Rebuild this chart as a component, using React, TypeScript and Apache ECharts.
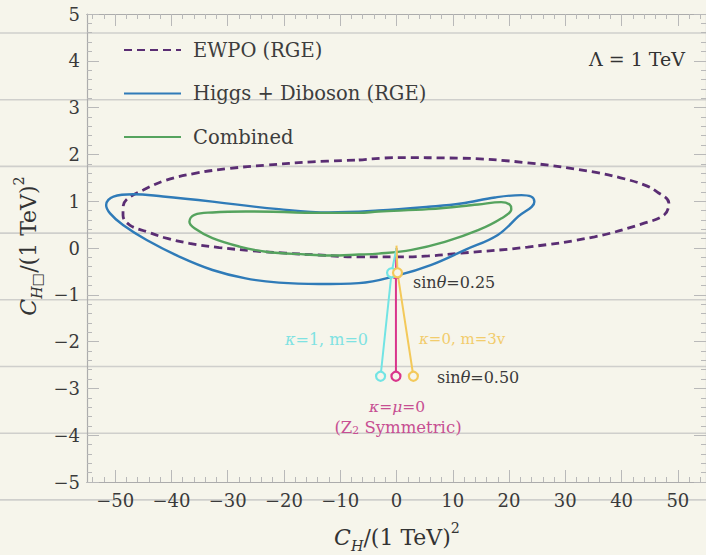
import React, { useEffect, useRef } from "react";
import * as echarts from "echarts";

// ---------- data ----------
const X_MAJOR = [-50, -40, -30, -20, -10, 0, 10, 20, 30, 40, 50];
const Y_TICKS = [-5, -4, -3, -2, -1, 0, 1, 2, 3, 4, 5];

const ewpo: number[][] = [
  [-6.7, 1.88], [0, 1.93], [11, 1.92], [23.3, 1.82], [35.2, 1.62], [39.8, 1.5],
  [44.0, 1.35], [46.3, 1.2], [48.4, 0.96], [47.6, 0.71], [44.0, 0.53],
  [35.2, 0.24], [23.3, 0.02], [11.5, -0.11], [5.7, -0.17], [0, -0.19],
  [-6.7, -0.19], [-13.8, -0.15], [-19.7, -0.11], [-25.6, -0.06], [-31.5, 0.01],
  [-36.8, 0.1], [-40.9, 0.21], [-44.4, 0.35], [-47.4, 0.49], [-48.6, 0.7],
  [-48.6, 0.85], [-48.0, 1.03], [-45.0, 1.24], [-40.9, 1.45], [-35.6, 1.6],
  [-29.7, 1.7], [-23.2, 1.77], [-15.0, 1.84], [-6.7, 1.88],
];

const higgs: number[][] = [
  [-32.7, 0.99], [-41.5, 1.1], [-46.8, 1.15], [-50.3, 1.1], [-51.6, 0.92],
  [-50.9, 0.74], [-48.6, 0.49], [-44.4, 0.17], [-38.5, -0.19], [-32.7, -0.47],
  [-26.8, -0.65], [-20.9, -0.74], [-13.8, -0.77], [-6.7, -0.75], [0.35, -0.58],
  [6.2, -0.36], [12.2, -0.04], [18.0, 0.28], [21.6, 0.67], [24.5, 0.99],
  [23.9, 1.1], [22.2, 1.13], [17.5, 1.08], [11.5, 0.95], [5.7, 0.88],
  [-3.2, 0.8], [-12, 0.76], [-20.9, 0.83], [-32.7, 0.99],
];

const combined: number[][] = [
  [-17.9, 0.76], [-26.8, 0.78], [-32.7, 0.76], [-35.9, 0.71], [-36.8, 0.56],
  [-35.9, 0.42], [-32.7, 0.21], [-27.9, 0.03], [-23.2, -0.08], [-16.1, -0.14],
  [-12, -0.16], [-6.7, -0.14], [-3.2, -0.12], [2.7, -0.04], [8.6, 0.13],
  [14.5, 0.38], [18.6, 0.63], [20.4, 0.83], [20.1, 0.93], [18.6, 0.98],
  [14.5, 0.93], [5.7, 0.83], [-3.2, 0.78], [-6.7, 0.75], [-12, 0.75], [-17.9, 0.76],
];

// benchmark lines: origin, sinθ=0.25, sinθ=0.50
const lineZ2: number[][] = [[0, 0], [-0.1, -0.55], [-0.1, -2.74]];
const lineK1: number[][] = [[0, 0], [-0.88, -0.53], [-2.83, -2.74]];
const lineK0: number[][] = [[0, 0.05], [0.18, -0.53], [3.0, -2.74]];

const BG = "#f6f5eb";
const SERIF = "DejaVu Serif";

const fmt = (v: number) => (v < 0 ? "\u2212" + Math.abs(v) : String(v));

export default function App() {
  const ref = useRef<HTMLDivElement>(null);
  useEffect(() => {
    if (!ref.current) return;
    const chart = echarts.init(ref.current, undefined, { renderer: "svg" });

    const xMinor: number[] = [];
    for (let i = 0; i < X_MAJOR.length - 1; i++) {
      for (let k = 1; k < 5; k++) xMinor.push(X_MAJOR[i] + (k * (X_MAJOR[i + 1] - X_MAJOR[i])) / 5);
    }
    xMinor.unshift(-54, -52);
    xMinor.push(52, 54);

    const tickColor = "#b9b9b9";
    const axisColor = "#acacac";
    const mkX = (pos: "top" | "bottom", vals: number[], len: number, labels: boolean) => ({
      type: "value",
      min: -55,
      max: 55,
      position: pos,
      axisLine: { show: true, onZero: false, lineStyle: { color: axisColor, width: 1.2 } },
      axisTick: { show: true, inside: true, length: len, customValues: vals, lineStyle: { color: tickColor } },
      axisLabel: labels
        ? { show: true, customValues: X_MAJOR, formatter: fmt, fontFamily: SERIF, fontSize: 18, color: "#3a3a3a", margin: 9 }
        : { show: false },
      splitLine: { show: false },
    });
    const mkY = (pos: "left" | "right", labels: boolean) => ({
      type: "value",
      min: -5,
      max: 5,
      interval: 1,
      position: pos,
      axisLine: { show: true, onZero: false, lineStyle: { color: axisColor, width: 1.2 } },
      axisTick: { show: true, inside: true, length: 12, lineStyle: { color: tickColor } },
      minorTick: { show: true, splitNumber: 5, length: 5, lineStyle: { color: tickColor } },
      axisLabel: labels
        ? { show: true, formatter: fmt, fontFamily: SERIF, fontSize: 18, color: "#3a3a3a", margin: 7 }
        : { show: false },
      splitLine: { show: false },
    });

    const rules: any[] = [];
    for (let k = 0; k < 8; k++) {
      const y = 33 + k * 66.7;
      rules.push({
        type: "line",
        z: -10,
        silent: true,
        shape: { x1: 0, y1: y, x2: 706, y2: y },
        style: { stroke: "#cfcfcc", lineWidth: 1.6 },
      });
    }

    const txt = (x: number, y: number, rich: any, text: string, align: string, color: string, size: number, rotation = 0) => ({
      type: "text",
      x,
      y,
      rotation,
      z: 100,
      style: {
        text,
        rich,
        align,
        verticalAlign: "middle",
        fill: color,
        fontFamily: SERIF,
        fontSize: size,
      },
    });

    const axisRich = (size: number, color: string) => ({
      i: { fontFamily: SERIF, fontStyle: "italic", fontSize: size, lineHeight: size + 10, fill: color, color },
      s: { fontFamily: SERIF, fontStyle: "italic", fontSize: size * 0.65, verticalAlign: "bottom", lineHeight: size * 0.65, fill: color, color },
      n: { fontFamily: SERIF, fontSize: size, lineHeight: size + 10, fill: color, color },
      p: { fontFamily: SERIF, fontSize: size * 0.65, verticalAlign: "top", lineHeight: size * 0.65, fill: color, color },
    });

    const annRich = (size: number, color: string) => ({
      n: { fontFamily: SERIF, fontSize: size, fill: color, color },
      i: { fontFamily: SERIF, fontStyle: "italic", fontSize: size, fill: color, color },
      s: { fontFamily: SERIF, fontSize: size * 0.65, verticalAlign: "bottom", lineHeight: size * 0.65, fill: color, color },
    });

    const benchmark = (name: string, data: number[][], color: string) => ({
      name,
      type: "line",
      data: data.map((d, i) => (i === 0 ? { value: d, symbol: "none" } : { value: d })),
      symbol: "circle",
      symbolSize: 9,
      showSymbol: true,
      lineStyle: { color, width: 2 },
      itemStyle: { color: BG, borderColor: color, borderWidth: 2.2 },
      z: 5,
    });

    chart.setOption({
      animation: false,
      backgroundColor: BG,
      grid: { left: 87, top: 14, width: 622, height: 468 },
      xAxis: [
        mkX("bottom", X_MAJOR, 12, true),
        mkX("bottom", xMinor, 5, false),
        mkX("top", X_MAJOR, 12, false),
        mkX("top", xMinor, 5, false),
      ],
      yAxis: [mkY("left", true), mkY("right", false)],
      legend: {
        data: ["EWPO (RGE)", "Higgs + Diboson (RGE)", "Combined"],
        orient: "vertical",
        left: 123,
        top: 40,
        padding: 0,
        itemWidth: 57,
        itemHeight: 14,
        itemGap: 23.5,
        itemStyle: { opacity: 0, borderWidth: 0 },
        textStyle: { fontFamily: SERIF, fontSize: 19.5, color: "#3d3d3d", padding: [0, 0, 0, 7], lineHeight: 20 },
      },
      graphic: [
        ...rules,
        txt(685, 59, annRich(19, "#333"), "{n|\u039b = 1 TeV}", "right", "#333", 19),
        txt(413, 282, annRich(16, "#3a3a3a"), "{n|sin}{i|\u03b8}{n|=0.25}", "left", "#3a3a3a", 16),
        txt(437, 377, annRich(16, "#3a3a3a"), "{n|sin}{i|\u03b8}{n|=0.50}", "left", "#3a3a3a", 16),
        txt(368, 339, annRich(16, "#7fe2e2"), "{i|\u03ba}{n|=1, m=0}", "right", "#7fe2e2", 16),
        txt(419, 339, annRich(15, "#f2cc6c"), "{i|\u03ba}{n|=0, m=3v}", "left", "#f2cc6c", 15),
        txt(397, 407, annRich(15.5, "#c74f92"), "{i|\u03ba}{n|=}{i|\u03bc}{n|=0}", "center", "#c74f92", 15.5),
        txt(398, 427, annRich(16.5, "#c74f92"), "{n|(Z}{s|2}{n| Symmetric)}", "center", "#c74f92", 16.5),
        txt(397, 537, axisRich(22, "#333"), "{i|C}{s|H}{n|/(1 TeV)}{p|2}", "center", "#333", 22),
        txt(28, 246, axisRich(22, "#333"), "{i|C}{s|H\u25a1}{n|/(1 TeV)}{p|2}", "center", "#333", 22, Math.PI / 2),
      ],
      series: [
        {
          name: "EWPO (RGE)",
          type: "line",
          data: ewpo,
          smooth: 0.4,
          symbol: "none",
          lineStyle: { color: "#5a2d73", width: 2.8, type: [8, 5] },
          itemStyle: { color: "#5a2d73" },
          z: 3,
        },
        {
          name: "Higgs + Diboson (RGE)",
          type: "line",
          data: higgs,
          smooth: 0.4,
          symbol: "none",
          lineStyle: { color: "#2f7bb8", width: 2.4 },
          itemStyle: { color: "#2f7bb8" },
          z: 3,
        },
        {
          name: "Combined",
          type: "line",
          data: combined,
          smooth: 0.4,
          symbol: "none",
          lineStyle: { color: "#55a35e", width: 2.4 },
          itemStyle: { color: "#55a35e" },
          z: 3,
        },
        benchmark("Z2", lineZ2, "#d9358b"),
        benchmark("k1", lineK1, "#72e4e4"),
        benchmark("k0", lineK0, "#f3c95a"),
      ],
    });
    return () => chart.dispose();
  }, []);
  return <div ref={ref} style={{ position: "fixed", left: 0, top: 0, width: 706, height: 555 }} />;
}
